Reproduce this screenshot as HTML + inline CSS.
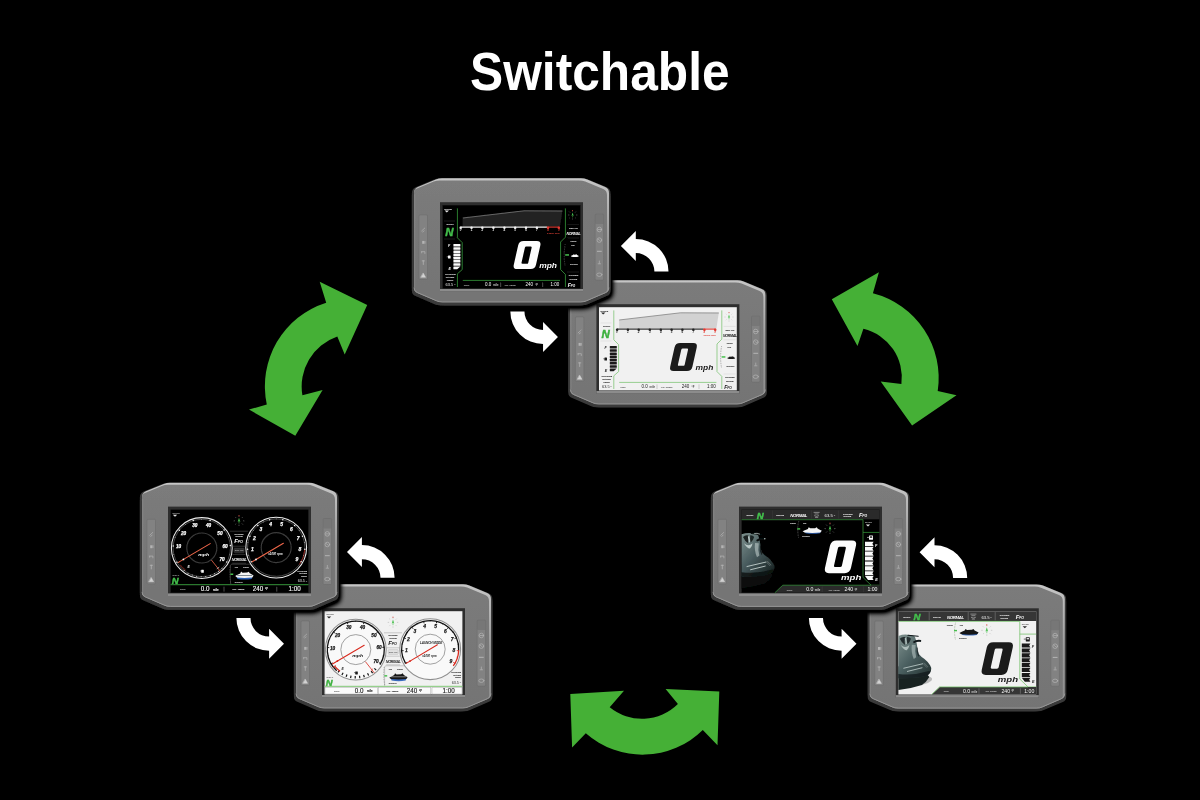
<!DOCTYPE html>
<html><head><meta charset="utf-8"><title>Switchable</title>
<style>
html,body{margin:0;padding:0;background:#000;}
body{width:1200px;height:800px;overflow:hidden;position:relative;font-family:"Liberation Sans",sans-serif;}
svg{position:absolute;left:0;top:0;display:block;will-change:transform}
text{font-family:"Liberation Sans",sans-serif;}
</style></head><body>
<svg width="1200" height="800" viewBox="0 0 1200 800">

<defs>
<linearGradient id="hlg" x1="0" y1="0" x2="0" y2="1"><stop offset="0" stop-color="#c6c6c6"/><stop offset="0.5" stop-color="#9c9c9c"/><stop offset="1" stop-color="#8a8a8a"/></linearGradient>
<linearGradient id="bodyg" x1="0" y1="0" x2="0" y2="1">
<stop offset="0" stop-color="#7b7b7b"/><stop offset="1" stop-color="#747474"/>
</linearGradient>
<!-- device shell: local coords 0..196 x 0..127 -->
<clipPath id="faceclip"><path d="M28,0 L167,0 Q170.3,0 173.2,1.2 L191.2,8.6 Q195,10.3 195,14.6 L195,109.6 Q195,113.2 191.6,114.6 L172.6,122.8 Q170.2,124 166.6,124 L28.4,124 Q24.8,124 22.4,122.8 L3.4,114.6 Q0,113.2 0,109.6 L0,14.6 Q0,10.3 3.8,8.6 L21.8,1.2 Q24.7,0 28,0 Z"/></clipPath>
<g id="shell">
<path id="faceP" d="M28,0 L167,0 Q170.3,0 173.2,1.2 L191.2,8.6 Q195,10.3 195,14.6 L195,109.6 Q195,113.2 191.6,114.6 L172.6,122.8 Q170.2,124 166.6,124 L28.4,124 Q24.8,124 22.4,122.8 L3.4,114.6 Q0,113.2 0,109.6 L0,14.6 Q0,10.3 3.8,8.6 L21.8,1.2 Q24.7,0 28,0 Z" fill="none"/>
<g fill="#3a3a3a"><path d="M28,0 L167,0 Q170.3,0 173.2,1.2 L191.2,8.6 Q195,10.3 195,14.6 L195,109.6 Q195,113.2 191.6,114.6 L172.6,122.8 Q170.2,124 166.6,124 L28.4,124 Q24.8,124 22.4,122.8 L3.4,114.6 Q0,113.2 0,109.6 L0,14.6 Q0,10.3 3.8,8.6 L21.8,1.2 Q24.7,0 28,0 Z" transform="translate(-2.1,0.3)"/><path d="M28,0 L167,0 Q170.3,0 173.2,1.2 L191.2,8.6 Q195,10.3 195,14.6 L195,109.6 Q195,113.2 191.6,114.6 L172.6,122.8 Q170.2,124 166.6,124 L28.4,124 Q24.8,124 22.4,122.8 L3.4,114.6 Q0,113.2 0,109.6 L0,14.6 Q0,10.3 3.8,8.6 L21.8,1.2 Q24.7,0 28,0 Z" transform="translate(1.4,0.3)"/><path d="M28,0 L167,0 Q170.3,0 173.2,1.2 L191.2,8.6 Q195,10.3 195,14.6 L195,109.6 Q195,113.2 191.6,114.6 L172.6,122.8 Q170.2,124 166.6,124 L28.4,124 Q24.8,124 22.4,122.8 L3.4,114.6 Q0,113.2 0,109.6 L0,14.6 Q0,10.3 3.8,8.6 L21.8,1.2 Q24.7,0 28,0 Z" transform="translate(-2.1,2.9)"/><path d="M28,0 L167,0 Q170.3,0 173.2,1.2 L191.2,8.6 Q195,10.3 195,14.6 L195,109.6 Q195,113.2 191.6,114.6 L172.6,122.8 Q170.2,124 166.6,124 L28.4,124 Q24.8,124 22.4,122.8 L3.4,114.6 Q0,113.2 0,109.6 L0,14.6 Q0,10.3 3.8,8.6 L21.8,1.2 Q24.7,0 28,0 Z" transform="translate(1.4,2.9)"/><path d="M28,0 L167,0 Q170.3,0 173.2,1.2 L191.2,8.6 Q195,10.3 195,14.6 L195,109.6 Q195,113.2 191.6,114.6 L172.6,122.8 Q170.2,124 166.6,124 L28.4,124 Q24.8,124 22.4,122.8 L3.4,114.6 Q0,113.2 0,109.6 L0,14.6 Q0,10.3 3.8,8.6 L21.8,1.2 Q24.7,0 28,0 Z" transform="translate(-0.4,2.9)"/></g>
<path d="M28,0 L167,0 Q170.3,0 173.2,1.2 L191.2,8.6 Q195,10.3 195,14.6 L195,109.6 Q195,113.2 191.6,114.6 L172.6,122.8 Q170.2,124 166.6,124 L28.4,124 Q24.8,124 22.4,122.8 L3.4,114.6 Q0,113.2 0,109.6 L0,14.6 Q0,10.3 3.8,8.6 L21.8,1.2 Q24.7,0 28,0 Z" fill="url(#hlg)"/>
<g clip-path="url(#faceclip)"><path d="M28,0 L167,0 Q170.3,0 173.2,1.2 L191.2,8.6 Q195,10.3 195,14.6 L195,109.6 Q195,113.2 191.6,114.6 L172.6,122.8 Q170.2,124 166.6,124 L28.4,124 Q24.8,124 22.4,122.8 L3.4,114.6 Q0,113.2 0,109.6 L0,14.6 Q0,10.3 3.8,8.6 L21.8,1.2 Q24.7,0 28,0 Z" transform="translate(-2,2.1)" fill="url(#bodyg)"/>
<rect x="-1" y="108" width="30" height="18" fill="#6a6a6a" opacity="0"/></g>
<path d="M0,109.6 Q0,113.2 3.4,114.6 L22.4,122.8 Q24.8,124 28.4,124 L166.6,124 Q170.2,124 172.6,122.8 L191.6,114.6 Q195,113.2 195,109.6" fill="none" stroke="#a4a4a4" stroke-width="0.7" transform="translate(0,-0.35)"/>
<path d="M0.6,16 V109" stroke="#8a8a8a" stroke-width="1.2" opacity="0.55"/>
<!-- side button strips -->
<rect x="5" y="36.6" width="8.5" height="64.6" rx="1" fill="#828282" stroke="#6c6c6c" stroke-width="0.6"/>
<rect x="181.1" y="35.8" width="8.5" height="66" rx="1" fill="#828282" stroke="#6c6c6c" stroke-width="0.6"/>
<g fill="none" stroke="#b4b4b4" stroke-width="0.7" stroke-linecap="round">
<path d="M7.7,52.6 L10.7,49.8 M8.7,53.6 L10.1,52.6"/>
<rect x="8.2" y="62.6" width="2.2" height="2.9" fill="#b4b4b4" stroke="none"/><path d="M11,63 V65"/>
<path d="M7.7,73.4 H10.9 V75.2 M7.7,73.4 V74.6"/>
<path d="M9.3,82.4 V86.2 M8.2,82.6 H10.4" stroke-width="0.8"/>
<path d="M9.3,95 L11.6,99 H7 Z" fill="#d2d2d2" stroke="#d2d2d2" stroke-width="0.5"/>
<circle cx="185.35" cy="51.2" r="2.3"/><path d="M183.95,51.2 H186.75"/>
<circle cx="185.35" cy="61.8" r="2.3"/><path d="M184.35,61 L186.35,62.6"/>
<path d="M183.35,73 H187.35" stroke-width="1"/>
<path d="M185.35,82.7 V84.9 M184.15,85.5 H186.55"/>
<ellipse cx="185.35" cy="96.4" rx="2.6" ry="1.7"/>
</g>
<rect x="181.1" y="35.8" width="8.5" height="10" rx="1" fill="#6f6f6f" opacity="0.6"/>
<!-- screen bezel -->
<rect x="26" y="23.9" width="143" height="89.4" fill="#2e2e2e"/>
<rect x="26" y="110.7" width="143" height="2.6" fill="#8c8c8c"/>
</g>

<!-- big italic zero: origin bottom-left, 20.8 x 28.4 -->
<g id="big0"><path fill-rule="evenodd" d="M4.6,-28 H17.8 Q22.2,-28 22.2,-23.6 V-4.4 Q22.2,0 17.8,0 H4.4 Q0,0 0,-4.4 V-23.6 Q0,-28 4.6,-28 Z M8.45,-22.6 Q7.25,-22.6 7.25,-21.4 V-6.45 Q7.25,-5.25 8.45,-5.25 H12.8 Q14,-5.25 14,-6.45 V-21.4 Q14,-22.6 12.8,-22.6 Z" transform="skewX(-12.7)"/></g>
<!-- small jetski side icon, ~8 wide, origin left-center -->
<g id="ski"><path d="M0,0.9 L1.0,0.35 L2.2,-0.25 L2.55,-1.05 L3.2,-0.5 L5.2,-0.6 L5.85,-1.0 L6.35,-0.3 L8,0.7 L7.4,1.5 Q4,1.9 0.8,1.5 Z"/></g>
<!-- compass r=4.6 -->
<g id="compass">
<g stroke-width="0.35" stroke-linecap="butt">
<path d="M0,-4.6V-3.4 M0,4.6V3.4 M-4.6,0H-3.4 M4.6,0H3.4 M-3.2,-3.2L-2.5,-2.5 M3.2,-3.2L2.5,-2.5 M-3.2,3.2L-2.5,2.5 M3.2,3.2L2.5,2.5"/></g>
<path d="M0,-2.6 L1.1,0.9 L0,0.3 L-1.1,0.9 Z" fill="#49c04f" stroke="none"/>
<path d="M0,0.6V2.4" stroke="#49c04f" stroke-width="0.5"/>
<rect x="-0.35" y="-5" width="0.7" height="1" fill="#e0392f" stroke="none"/>
</g>
<filter id="sh" x="-10%" y="-10%" width="125%" height="130%"><feGaussianBlur in="SourceAlpha" stdDeviation="2.6"/><feOffset dx="1.5" dy="2.5"/><feComponentTransfer><feFuncA type="linear" slope="1.6"/></feComponentTransfer><feMerge><feMergeNode/><feMergeNode in="SourceGraphic"/></feMerge></filter>
<path id="warrow" d="M-14.9,-25.7 L0,-40.7 L0,-32.7 A32.7,32.7 0 0 1 32.7,0 L18.6,0 A18.6,18.6 0 0 0 0,-18.6 L0,-10.7 Z" fill="#fff"/>
</defs>

<rect width="1200" height="800" fill="#000"/>
<text transform="translate(470.1,90.1) scale(0.965,1.03)" font-size="51.5" font-weight="700" fill="#fff" letter-spacing="0">Switchable</text>
<!-- green arrows -->
<g fill="#45b036">
<path d="M326.2,302.7 L319.7,281.8 L367.2,305.1 L344.7,354.5 L337.3,336.4 A53,53 0 0 0 302.4,395.3 L322.6,390.1 L295.3,435.7 L249,409.6 L266.8,404.4 A87.5,87.5 0 0 1 326.2,302.7 Z"/>
<path d="M872.9,293.2 L878.9,272.3 L831.8,299.2 L857.5,345.9 L863.4,328.8 A50,50 0 0 1 901.4,383.9 L880.7,381.6 L912.1,425.5 L956.5,395.3 L937.7,391.1 A87.5,87.5 0 0 0 872.9,293.2 Z"/>
<path d="M609.7,707.3 L624,690.8 L570.3,693.9 L572.1,747.6 L585.8,733.3 A86,86 0 0 0 702.8,730 L717.5,745.3 L719.3,691.5 L665.6,689 L677.9,704 A51,51 0 0 1 609.7,707.3 Z"/>
</g>

<!-- devices -->
<g transform="translate(570.4,280.3)"><use href="#shell"/><g transform="translate(28.6,26.9)">
<rect x="0" y="0" width="137.8" height="83.2" fill="#f1f1f1"/>
<g font-family="Liberation Sans, sans-serif">
<path d="M20.2,12.8 L81.4,5.6 L119.8,5.6 L117.4,21.4 L20.2,21.4 Z" fill="#d2d2d2"/>
<path d="M20.2,12.8 L81.4,5.6 L119.8,5.8" fill="none" stroke="#777" stroke-width="0.7"/>
<path d="M17.8,21.9 H104.6" stroke="#3a3a3a" stroke-width="1.1"/>
<path d="M104.6,21.9 H116.8" stroke="#e23a32" stroke-width="1.1"/>
<g fill="#222"><circle cx="18.1" cy="22.5" r="1.25"/><circle cx="28.9" cy="22.5" r="1.25"/><circle cx="39.7" cy="22.5" r="1.25"/><circle cx="50.8" cy="22.5" r="1.25"/><circle cx="61.8" cy="22.5" r="1.25"/><circle cx="72.6" cy="22.5" r="1.25"/><circle cx="83.4" cy="22.5" r="1.25"/><circle cx="94.3" cy="22.5" r="1.25"/></g>
<g fill="#e23a32"><circle cx="105.4" cy="22.5" r="1.3"/><circle cx="116.2" cy="22.5" r="1.3"/></g>
<g fill="#2a2a2a" font-size="3" font-weight="700" font-style="italic" text-anchor="middle"><text x="18.1" y="25.6">0</text><text x="28.9" y="25.6">1</text><text x="39.7" y="25.6">2</text><text x="50.8" y="25.6">3</text><text x="61.8" y="25.6">4</text><text x="72.6" y="25.6">5</text><text x="83.4" y="25.6">6</text><text x="94.3" y="25.6">7</text></g>
<g fill="#e23a32" font-size="3" font-weight="700" font-style="italic" text-anchor="middle"><text x="105.4" y="25.6">8</text><text x="116.2" y="25.6">9</text></g>
<text x="104.4" y="28.6" font-size="2.5" fill="#e04038" font-weight="700">x1000 rpm</text>
<g fill="none" stroke="#86c77e" stroke-width="0.85" stroke-linejoin="round"><path d="M14.8,3.2 V32.6 L19.6,37.4 V64.4 L14.8,68.6 V81.8"/><path d="M122.8,3.2 V32 L118,36.8 V64.4 L122.8,69.2 V81.8"/><path d="M20.2,75.2 H117.4"/></g>
<g fill="#555" stroke="#555" stroke-width="0.16" font-size="2.5" font-weight="700"><text x="1.6" y="4.4">MODE</text><text x="4" y="19.6">SHIFT</text></g>
<path d="M2,5.4 L4.2,7.4 L6.4,5.4 Z" fill="#2a2a2a"/>
<path d="M1.6,15.8 H12.4 M1.6,33.8 H12.4" stroke="#c4c4c4" stroke-width="0.35"/>
<text x="2.6" y="31" font-size="11.4" font-weight="700" font-style="italic" fill="#3db13f" stroke="#3db13f" stroke-width="0.45">N</text>
<g fill="#1a1a1a"><rect x="10.8" y="38.8" width="7" height="2.6" rx="0.5"/><rect x="10.8" y="42.0" width="7" height="2.6" rx="0.5"/><rect x="10.8" y="45.2" width="7" height="2.6" rx="0.5"/><rect x="10.8" y="48.4" width="7" height="2.6" rx="0.5"/><rect x="10.8" y="51.6" width="7" height="2.6" rx="0.5"/><rect x="10.8" y="54.8" width="7" height="2.6" rx="0.5"/><rect x="10.8" y="58.0" width="7" height="2.6" rx="0.5"/><path d="M11.3,61.2 H17.8 L14.6,64 H11.3 Q10.8,64 10.8,63.5 V61.7 Q10.8,61.2 11.3,61.2Z"/></g>
<g fill="#1a1a1a" font-size="3.6" font-weight="700" font-style="italic"><text x="5.4" y="42">F</text><text x="5.8" y="65">E</text></g>
<rect x="5.4" y="50.4" width="2.6" height="3" rx="0.4" fill="#1a1a1a"/><path d="M4.2,51.6 H5.4" stroke="#1a1a1a" stroke-width="0.5"/>
<g fill="#555" stroke="#555" stroke-width="0.16" font-size="2.4" font-weight="700"><text x="2.4" y="69.8">OUTSIDE</text><text x="3.2" y="72.6">WATER</text><text x="4.2" y="75.4">TEMP</text></g>
<text x="3" y="80.8" font-size="3.9" fill="#2a2a2a">63.5<tspan font-size="2.4" dy="-0.8">°F</tspan></text>
<use href="#big0" transform="translate(70.2,63.9)" fill="#1b1b1b"/>
<text transform="translate(96.6,62.4) scale(1.3,1)" font-size="6.5" font-weight="700" font-style="italic" fill="#1a1a1a">mph</text>
<g font-size="4.5" fill="#1a1a1a"><text x="21.2" y="80.8" font-size="2.5" font-weight="700" fill="#4a4a4a">TRIP</text><text x="42.4" y="81.3">0.0</text><text x="50.4" y="81.2" font-size="2.8" font-weight="700" fill="#4a4a4a">mile</text><text x="61.8" y="80.8" font-size="2.5" font-weight="700" fill="#4a4a4a">OIL TEMP</text><text x="82.8" y="81.3">240</text><text x="92.6" y="80.8" font-size="2.8" font-weight="700" fill="#4a4a4a">°F</text><text x="108" y="81.3">1:00</text></g>
<path d="M58,77.2 V81.8 M100,77.2 V81.8" stroke="#999" stroke-width="0.45"/>
<use href="#compass" transform="translate(130,9.8)" stroke="#9a9a9a"/>
<path d="M124.6,19.2 H136.6 M124.6,32.6 H136.6 M124.6,66.8 H136.6" stroke="#c4c4c4" stroke-width="0.35"/>
<g fill="#555" stroke="#555" stroke-width="0.16" font-size="2.5" font-weight="700"><text x="126.4" y="23.9">SET UP</text><text x="127.6" y="36.5">TRIM</text><text x="128.6" y="41.3">UP</text><text x="127.4" y="59.5">DOWN</text><text x="126.2" y="70.8">POWER</text><text x="127" y="74.4">MODE</text></g>
<text x="123.9" y="29.5" font-size="3.6" font-weight="700" font-style="italic" fill="#1a1a1a" letter-spacing="-0.3">NORMAL</text>
<path d="M122.6,39 Q120.6,50 122.6,61" fill="none" stroke="#444" stroke-width="0.5" stroke-dasharray="0.8 0.9"/>
<rect x="122.6" y="49" width="3.8" height="1.5" fill="#49c04f"/>
<use href="#ski" transform="translate(128.2,50)" fill="#1a1a1a"/>
<text x="125.2" y="81.4" font-size="5.2" font-weight="700" font-style="italic" fill="#1a1a1a">F<tspan font-size="3.1" dx="-0.2">PO</tspan></text>
</g>
</g></g>
<g transform="translate(414.0,178.3)" filter="url(#sh)"><use href="#shell"/><g transform="translate(28.6,26.9)">
<rect x="0" y="0" width="137.8" height="83.2" fill="#020202"/>
<g font-family="Liberation Sans, sans-serif">
<path d="M20.2,12.8 L81.4,5.6 L119.8,5.6 L117.4,21.4 L20.2,21.4 Z" fill="#232323"/>
<path d="M20.2,12.8 L81.4,5.6 L119.8,5.8" fill="none" stroke="#8a8a8a" stroke-width="0.7"/>
<path d="M17.8,21.9 H104.6" stroke="#f0f0f0" stroke-width="1.1"/>
<path d="M104.6,21.9 H116.8" stroke="#e23a32" stroke-width="1.1"/>
<g fill="#f2f2f2"><circle cx="18.1" cy="22.5" r="1.25"/><circle cx="28.9" cy="22.5" r="1.25"/><circle cx="39.7" cy="22.5" r="1.25"/><circle cx="50.8" cy="22.5" r="1.25"/><circle cx="61.8" cy="22.5" r="1.25"/><circle cx="72.6" cy="22.5" r="1.25"/><circle cx="83.4" cy="22.5" r="1.25"/><circle cx="94.3" cy="22.5" r="1.25"/></g>
<g fill="#e23a32"><circle cx="105.4" cy="22.5" r="1.3"/><circle cx="116.2" cy="22.5" r="1.3"/></g>
<g fill="#e6e6e6" font-size="3" font-weight="700" font-style="italic" text-anchor="middle"><text x="18.1" y="25.6">0</text><text x="28.9" y="25.6">1</text><text x="39.7" y="25.6">2</text><text x="50.8" y="25.6">3</text><text x="61.8" y="25.6">4</text><text x="72.6" y="25.6">5</text><text x="83.4" y="25.6">6</text><text x="94.3" y="25.6">7</text></g>
<g fill="#e23a32" font-size="3" font-weight="700" font-style="italic" text-anchor="middle"><text x="105.4" y="25.6">8</text><text x="116.2" y="25.6">9</text></g>
<text x="104.4" y="28.6" font-size="2.5" fill="#e04038" font-weight="700">x1000 rpm</text>
<g fill="none" stroke="#35923b" stroke-width="0.85" stroke-linejoin="round"><path d="M14.8,3.2 V32.6 L19.6,37.4 V64.4 L14.8,68.6 V81.8"/><path d="M122.8,3.2 V32 L118,36.8 V64.4 L122.8,69.2 V81.8"/><path d="M20.2,75.2 H117.4"/></g>
<g fill="#b8b8b8" stroke="#b8b8b8" stroke-width="0.16" font-size="2.5" font-weight="700"><text x="1.6" y="4.4">MODE</text><text x="4" y="19.6">SHIFT</text></g>
<path d="M2,5.4 L4.2,7.4 L6.4,5.4 Z" fill="#e6e6e6"/>
<path d="M1.6,15.8 H12.4 M1.6,33.8 H12.4" stroke="#444" stroke-width="0.35"/>
<text x="2.6" y="31" font-size="11.4" font-weight="700" font-style="italic" fill="#43bf4c" stroke="#43bf4c" stroke-width="0.45">N</text>
<g fill="#fafafa"><rect x="10.8" y="38.8" width="7" height="2.6" rx="0.5"/><rect x="10.8" y="42.0" width="7" height="2.6" rx="0.5"/><rect x="10.8" y="45.2" width="7" height="2.6" rx="0.5"/><rect x="10.8" y="48.4" width="7" height="2.6" rx="0.5"/><rect x="10.8" y="51.6" width="7" height="2.6" rx="0.5"/><rect x="10.8" y="54.8" width="7" height="2.6" rx="0.5"/><rect x="10.8" y="58.0" width="7" height="2.6" rx="0.5"/><path d="M11.3,61.2 H17.8 L14.6,64 H11.3 Q10.8,64 10.8,63.5 V61.7 Q10.8,61.2 11.3,61.2Z"/></g>
<g fill="#fafafa" font-size="3.6" font-weight="700" font-style="italic"><text x="5.4" y="42">F</text><text x="5.8" y="65">E</text></g>
<rect x="5.4" y="50.4" width="2.6" height="3" rx="0.4" fill="#fafafa"/><path d="M4.2,51.6 H5.4" stroke="#fafafa" stroke-width="0.5"/>
<g fill="#b8b8b8" stroke="#b8b8b8" stroke-width="0.16" font-size="2.4" font-weight="700"><text x="2.4" y="69.8">OUTSIDE</text><text x="3.2" y="72.6">WATER</text><text x="4.2" y="75.4">TEMP</text></g>
<text x="3" y="80.8" font-size="3.9" fill="#e6e6e6">63.5<tspan font-size="2.4" dy="-0.8">°F</tspan></text>
<use href="#big0" transform="translate(70.2,63.9)" fill="#fdfdfd"/>
<text transform="translate(96.6,62.4) scale(1.3,1)" font-size="6.5" font-weight="700" font-style="italic" fill="#fafafa">mph</text>
<g font-size="4.5" fill="#fafafa"><text x="21.2" y="80.8" font-size="2.5" font-weight="700" fill="#c4c4c4">TRIP</text><text x="42.4" y="81.3">0.0</text><text x="50.4" y="81.2" font-size="2.8" font-weight="700" fill="#c4c4c4">mile</text><text x="61.8" y="80.8" font-size="2.5" font-weight="700" fill="#c4c4c4">OIL TEMP</text><text x="82.8" y="81.3">240</text><text x="92.6" y="80.8" font-size="2.8" font-weight="700" fill="#c4c4c4">°F</text><text x="108" y="81.3">1:00</text></g>
<path d="M58,77.2 V81.8 M100,77.2 V81.8" stroke="#9a9a9a" stroke-width="0.45"/>
<use href="#compass" transform="translate(130,9.8)" stroke="#bdbdbd"/>
<path d="M124.6,19.2 H136.6 M124.6,32.6 H136.6 M124.6,66.8 H136.6" stroke="#444" stroke-width="0.35"/>
<g fill="#b8b8b8" stroke="#b8b8b8" stroke-width="0.16" font-size="2.5" font-weight="700"><text x="126.4" y="23.9">SET UP</text><text x="127.6" y="36.5">TRIM</text><text x="128.6" y="41.3">UP</text><text x="127.4" y="59.5">DOWN</text><text x="126.2" y="70.8">POWER</text><text x="127" y="74.4">MODE</text></g>
<text x="123.9" y="29.5" font-size="3.6" font-weight="700" font-style="italic" fill="#fafafa" letter-spacing="-0.3">NORMAL</text>
<path d="M122.6,39 Q120.6,50 122.6,61" fill="none" stroke="#8d8d8d" stroke-width="0.5" stroke-dasharray="0.8 0.9"/>
<rect x="122.6" y="49" width="3.8" height="1.5" fill="#49c04f"/>
<use href="#ski" transform="translate(128.2,50)" fill="#fafafa"/>
<text x="125.2" y="81.4" font-size="5.2" font-weight="700" font-style="italic" fill="#fafafa">F<tspan font-size="3.1" dx="-0.2">PO</tspan></text>
</g>
</g></g>
<g transform="translate(296.0,584.3)"><use href="#shell"/><g transform="translate(28.6,26.9)">
<rect x="0" y="0" width="137.8" height="83.2" fill="#f1f1f1"/>
<g font-family="Liberation Sans, sans-serif">
<circle cx="31.2" cy="38.4" r="30.4" fill="#f9f9f9" stroke="#8e8e8e" stroke-width="1.05"/>
<path d="M12.13,59.58 A28.5,28.5 0 1 1 55.37,53.50" fill="none" stroke="#111" stroke-width="1.3"/>
<circle cx="31.2" cy="38.4" r="15" fill="none" stroke="#8a8a8a" stroke-width="0.8"/>
<path d="M6.17,52.85 L8.16,51.70" stroke="#111" stroke-width="0.9"/>
<path d="M3.03,44.85 L4.30,44.56" stroke="#111" stroke-width="0.5"/>
<path d="M2.38,36.28 L4.67,36.45" stroke="#111" stroke-width="0.9"/>
<path d="M4.27,27.90 L5.49,28.37" stroke="#111" stroke-width="0.5"/>
<path d="M8.55,20.45 L10.35,21.88" stroke="#111" stroke-width="0.9"/>
<path d="M14.83,14.58 L15.57,15.65" stroke="#111" stroke-width="0.5"/>
<path d="M22.56,10.82 L23.25,13.02" stroke="#111" stroke-width="0.9"/>
<path d="M31.05,9.50 L31.06,10.80" stroke="#111" stroke-width="0.5"/>
<path d="M39.55,10.73 L38.89,12.94" stroke="#111" stroke-width="0.9"/>
<path d="M47.32,14.41 L46.59,15.49" stroke="#111" stroke-width="0.5"/>
<path d="M53.66,20.21 L51.87,21.66" stroke="#111" stroke-width="0.9"/>
<path d="M58.01,27.62 L56.81,28.11" stroke="#111" stroke-width="0.5"/>
<path d="M60.00,35.98 L57.71,36.17" stroke="#111" stroke-width="0.9"/>
<path d="M59.44,44.56 L58.17,44.28" stroke="#111" stroke-width="0.5"/>
<path d="M56.38,52.59 L54.37,51.46" stroke="#111" stroke-width="0.9"/>
<text x="7.96" y="38.39" font-size="4.7" font-weight="700" font-style="italic" text-anchor="middle" fill="#1a1a1a" stroke="#1a1a1a" stroke-width="0.25">10</text>
<text x="12.94" y="25.62" font-size="4.7" font-weight="700" font-style="italic" text-anchor="middle" fill="#1a1a1a" stroke="#1a1a1a" stroke-width="0.25">20</text>
<text x="24.23" y="17.86" font-size="4.7" font-weight="700" font-style="italic" text-anchor="middle" fill="#1a1a1a" stroke="#1a1a1a" stroke-width="0.25">30</text>
<text x="37.93" y="17.79" font-size="4.7" font-weight="700" font-style="italic" text-anchor="middle" fill="#1a1a1a" stroke="#1a1a1a" stroke-width="0.25">40</text>
<text x="49.31" y="25.43" font-size="4.7" font-weight="700" font-style="italic" text-anchor="middle" fill="#1a1a1a" stroke="#1a1a1a" stroke-width="0.25">50</text>
<text x="54.42" y="38.14" font-size="4.7" font-weight="700" font-style="italic" text-anchor="middle" fill="#1a1a1a" stroke="#1a1a1a" stroke-width="0.25">60</text>
<text x="51.50" y="51.53" font-size="4.7" font-weight="700" font-style="italic" text-anchor="middle" fill="#1a1a1a" stroke="#1a1a1a" stroke-width="0.25">70</text>
<circle cx="105.6" cy="38.0" r="30.4" fill="#f9f9f9" stroke="#8e8e8e" stroke-width="1.05"/>
<path d="M80.92,52.25 A28.5,28.5 0 1 1 134.06,39.49" fill="none" stroke="#111" stroke-width="1.3"/>
<path d="M134.06,39.49 A28.5,28.5 0 0 1 128.66,54.75" fill="none" stroke="#d8281c" stroke-width="1.3"/>
<circle cx="105.6" cy="38.0" r="15" fill="none" stroke="#8a8a8a" stroke-width="0.8"/>
<path d="M80.50,52.32 L82.49,51.18" stroke="#111" stroke-width="0.9"/>
<path d="M77.88,46.16 L79.12,45.79" stroke="#111" stroke-width="0.5"/>
<path d="M76.74,39.56 L79.04,39.44" stroke="#111" stroke-width="0.9"/>
<path d="M77.16,32.88 L78.44,33.11" stroke="#111" stroke-width="0.5"/>
<path d="M79.10,26.48 L81.21,27.39" stroke="#111" stroke-width="0.9"/>
<path d="M82.46,20.69 L83.50,21.47" stroke="#111" stroke-width="0.5"/>
<path d="M87.06,15.83 L88.54,17.59" stroke="#111" stroke-width="0.9"/>
<path d="M92.66,12.16 L93.24,13.32" stroke="#111" stroke-width="0.5"/>
<path d="M98.95,9.88 L99.48,12.11" stroke="#111" stroke-width="0.9"/>
<path d="M105.60,9.10 L105.60,10.40" stroke="#111" stroke-width="0.5"/>
<path d="M112.25,9.88 L111.72,12.11" stroke="#111" stroke-width="0.9"/>
<path d="M118.54,12.16 L117.96,13.32" stroke="#111" stroke-width="0.5"/>
<path d="M124.14,15.83 L122.66,17.59" stroke="#111" stroke-width="0.9"/>
<path d="M128.74,20.69 L127.70,21.47" stroke="#111" stroke-width="0.5"/>
<path d="M132.10,26.48 L129.99,27.39" stroke="#111" stroke-width="0.9"/>
<path d="M134.04,32.88 L132.76,33.11" stroke="#111" stroke-width="0.5"/>
<path d="M134.46,39.56 L132.16,39.44" stroke="#d8281c" stroke-width="0.9"/>
<path d="M133.32,46.16 L132.08,45.79" stroke="#d8281c" stroke-width="0.5"/>
<path d="M130.70,52.32 L128.71,51.18" stroke="#d8281c" stroke-width="0.9"/>
<text x="81.83" y="41.09" font-size="5" font-weight="700" font-style="italic" text-anchor="middle" fill="#1a1a1a" stroke="#1a1a1a" stroke-width="0.25">1</text>
<text x="83.77" y="30.31" font-size="5" font-weight="700" font-style="italic" text-anchor="middle" fill="#1a1a1a" stroke="#1a1a1a" stroke-width="0.25">2</text>
<text x="90.33" y="21.54" font-size="5" font-weight="700" font-style="italic" text-anchor="middle" fill="#1a1a1a" stroke="#1a1a1a" stroke-width="0.25">3</text>
<text x="100.12" y="16.64" font-size="5" font-weight="700" font-style="italic" text-anchor="middle" fill="#1a1a1a" stroke="#1a1a1a" stroke-width="0.25">4</text>
<text x="111.08" y="16.64" font-size="5" font-weight="700" font-style="italic" text-anchor="middle" fill="#1a1a1a" stroke="#1a1a1a" stroke-width="0.25">5</text>
<text x="120.87" y="21.54" font-size="5" font-weight="700" font-style="italic" text-anchor="middle" fill="#1a1a1a" stroke="#1a1a1a" stroke-width="0.25">6</text>
<text x="127.43" y="30.31" font-size="5" font-weight="700" font-style="italic" text-anchor="middle" fill="#1a1a1a" stroke="#1a1a1a" stroke-width="0.25">7</text>
<text x="129.37" y="41.09" font-size="5" font-weight="700" font-style="italic" text-anchor="middle" fill="#1a1a1a" stroke="#1a1a1a" stroke-width="0.25">8</text>
<text x="126.27" y="51.59" font-size="5" font-weight="700" font-style="italic" text-anchor="middle" fill="#1a1a1a" stroke="#1a1a1a" stroke-width="0.25">9</text>
<path d="M13.41,61.17 L14.95,59.20" stroke="#111" stroke-width="1.2"/>
<path d="M17.28,63.73 L18.48,61.53" stroke="#111" stroke-width="1.2"/>
<path d="M21.51,65.63 L22.34,63.27" stroke="#111" stroke-width="1.2"/>
<path d="M25.98,66.83 L26.43,64.37" stroke="#111" stroke-width="1.2"/>
<path d="M30.59,67.29 L30.65,64.79" stroke="#111" stroke-width="1.2"/>
<path d="M35.22,67.02 L34.87,64.54" stroke="#111" stroke-width="1.2"/>
<path d="M39.75,66.01 L39.01,63.62" stroke="#111" stroke-width="1.2"/>
<path d="M44.05,64.29 L42.94,62.05" stroke="#111" stroke-width="1.2"/>
<path d="M48.02,61.90 L46.57,59.87" stroke="#111" stroke-width="1.2"/>
<path d="M51.56,58.91 L49.80,57.13" stroke="#111" stroke-width="1.2"/>
<path d="M15.45,60.08 A26.8,26.8 0 0 1 10.08,54.90" fill="none" stroke="#d8281c" stroke-width="1.2"/>
<path d="M8.35,56.25 L11.03,54.16" stroke="#d8281c" stroke-width="0.9"/>
<text x="17" y="58.6" font-size="3.4" font-weight="700" font-style="italic" fill="#1a1a1a">E</text>
<rect x="30.6" y="60.2" width="2.6" height="3" rx="0.4" fill="#1a1a1a"/><path d="M29.4,61.4 H30.6" stroke="#1a1a1a" stroke-width="0.5"/>
<path d="M40.8,50.4 L49.8,61.8" stroke="#d8281c" stroke-width="0.8"/><path d="M46.2,59.4 L48.6,57.4" stroke="#d8281c" stroke-width="0.6"/>
<path d="M7.8,52.8 L39.6,34" stroke="#d8281c" stroke-width="1.05" stroke-linecap="round"/>
<circle cx="12.8" cy="49.8" r="0.9" fill="#d8281c"/>
<path d="M81.6,52.2 L112.8,33.6" stroke="#d8281c" stroke-width="1.05" stroke-linecap="round"/>
<circle cx="85.4" cy="49.9" r="0.9" fill="#d8281c"/>
<text transform="translate(27.6,46.2) scale(1.3,1)" font-size="4" font-weight="700" font-style="italic" fill="#1a1a1a">mph</text>
<text x="97.6" y="45.8" font-size="2.9" font-weight="700" font-style="italic" fill="#1a1a1a">x1000 rpm</text>
<text x="95.4" y="32.4" font-size="3.1" font-weight="700" font-style="italic" fill="#1a1a1a" letter-spacing="-0.1">LAUNCH MODE</text>
<use href="#compass" transform="translate(68.4,11.2) scale(1.15)" stroke="#9a9a9a"/>
<path d="M59.4,21.6 H77.4 M61.8,36.6 H75.2 M61.8,45 H75.2 M61.6,53.6 H75.4" stroke="#9c9c9c" stroke-width="0.5"/>
<g fill="#555" stroke="#555" stroke-width="0.16" font-size="2.4" font-weight="700" text-anchor="middle"><text x="68.4" y="25.2">POWER</text><text x="68.4" y="27.8">MODE</text></g>
<text x="63.6" y="33.8" font-size="6" font-weight="700" font-style="italic" fill="#1a1a1a">F<tspan font-size="3.6" dx="-0.2">PO</tspan></text>
<rect x="63.6" y="38.4" width="10" height="4.8" rx="0.8" fill="#e2e2e2" stroke="#9c9c9c" stroke-width="0.3"/>
<text x="68.6" y="41.7" font-size="2.4" font-weight="700" text-anchor="middle" fill="#555">SET UP</text>
<text x="68.6" y="51.6" font-size="3.8" font-weight="700" font-style="italic" fill="#1a1a1a" text-anchor="middle" letter-spacing="-0.3">NORMAL</text>
<path d="M60,75 V56 Q60,54.6 61.4,54.6 H80" fill="none" stroke="#9c9c9c" stroke-width="0.5"/>
<path d="M59.6,56 Q58.2,65 60.2,74" fill="none" stroke="#444" stroke-width="0.45" stroke-dasharray="0.8 0.9"/>
<g fill="#555" stroke="#555" stroke-width="0.16" font-size="2.4" font-weight="700"><text x="64.2" y="58.4">UP</text><text x="72.4" y="58.4">TRIM</text><text x="64.2" y="73">DOWN</text></g>
<rect x="59.8" y="63.9" width="2.8" height="1.5" fill="#49c04f"/>
<path d="M65.6,65.8 H82.4 L81,69.4 Q74,70.6 67,69.4 Z" fill="#3a6cc0"/>
<use href="#ski" transform="translate(64.6,64.4) scale(2.3)" fill="#151515"/>
<path d="M66.6,65.6 H81.6" stroke="#f4f4f4" stroke-width="0.5"/>
<g fill="#555" stroke="#555" stroke-width="0.16" font-size="2.2" font-weight="700" text-anchor="end"><text x="136.4" y="62">OUTSIDE</text><text x="136.4" y="64.6">WATER</text><text x="136.4" y="67.2">TEMP</text></g>
<text x="136.6" y="72.8" font-size="3.7" fill="#2a2a2a" text-anchor="end">63.5<tspan font-size="2.3" dy="-0.8">°F</tspan></text>
<text x="1.8" y="4.2" font-size="2.5" font-weight="700" fill="#555">MODE</text><path d="M2.2,5.2 L4.4,7.2 L6.6,5.2 Z" fill="#2a2a2a"/>
<text x="1.8" y="66.8" font-size="2.3" font-weight="700" fill="#555">SHIFT</text>
<text x="1.2" y="74.6" font-size="9.4" font-weight="700" font-style="italic" fill="#3db13f" stroke="#3db13f" stroke-width="0.45">N</text>
<rect x="0" y="74.6" width="137.8" height="1.1" fill="#8ccd82"/>
<g fill="#fbfbfb" stroke="#a8a8a8" stroke-width="0.45"><rect x="0.4" y="76.2" width="52.4" height="6.6"/><rect x="54" y="76.2" width="52.2" height="6.6"/><rect x="107.4" y="76.2" width="30" height="6.6"/></g>
<g font-size="6.3" fill="#1a1a1a" stroke="#1a1a1a" stroke-width="0.12"><text x="9.4" y="80.8" stroke="none" font-size="2.5" font-weight="700" fill="#4a4a4a">TRIP</text><text x="30.2" y="81.8">0.0</text><text x="42.4" y="81.2" font-size="2.8" font-weight="700" fill="#4a4a4a">mile</text><text x="62" y="80.8" font-size="2.5" font-weight="700" fill="#4a4a4a">OIL TEMP</text><text x="82.2" y="81.8">240</text><text x="94.4" y="80.6" font-size="3" font-weight="700" fill="#4a4a4a">°F</text><text x="117.8" y="81.8">1:00</text></g>
</g>
</g></g>
<g transform="translate(142.0,482.7)" filter="url(#sh)"><use href="#shell"/><g transform="translate(28.6,26.9)">
<rect x="0" y="0" width="137.8" height="83.2" fill="#020202"/>
<g font-family="Liberation Sans, sans-serif">
<circle cx="31.2" cy="38.4" r="30.4" fill="#020202" stroke="#ececec" stroke-width="1.05"/>
<circle cx="31.2" cy="38.4" r="28.7" fill="none" stroke="#9a9a9a" stroke-width="0.45"/>
<circle cx="31.2" cy="38.4" r="15" fill="none" stroke="#3c3c3c" stroke-width="1.1"/>
<circle cx="6.35" cy="52.75" r="0.75" fill="#f4f4f4"/>
<circle cx="3.22" cy="44.81" r="0.4" fill="#f4f4f4"/>
<circle cx="2.58" cy="36.30" r="0.75" fill="#f4f4f4"/>
<circle cx="4.46" cy="27.97" r="0.4" fill="#f4f4f4"/>
<circle cx="8.71" cy="20.57" r="0.75" fill="#f4f4f4"/>
<circle cx="14.94" cy="14.75" r="0.4" fill="#f4f4f4"/>
<circle cx="22.62" cy="11.01" r="0.75" fill="#f4f4f4"/>
<circle cx="31.05" cy="9.70" r="0.4" fill="#f4f4f4"/>
<circle cx="39.50" cy="10.92" r="0.75" fill="#f4f4f4"/>
<circle cx="47.21" cy="14.58" r="0.4" fill="#f4f4f4"/>
<circle cx="53.50" cy="20.34" r="0.75" fill="#f4f4f4"/>
<circle cx="57.83" cy="27.70" r="0.4" fill="#f4f4f4"/>
<circle cx="59.80" cy="36.00" r="0.75" fill="#f4f4f4"/>
<circle cx="59.24" cy="44.51" r="0.4" fill="#f4f4f4"/>
<circle cx="56.20" cy="52.49" r="0.75" fill="#f4f4f4"/>
<text x="7.96" y="38.39" font-size="4.7" font-weight="700" font-style="italic" text-anchor="middle" fill="#fafafa" stroke="#fafafa" stroke-width="0.25">10</text>
<text x="12.94" y="25.62" font-size="4.7" font-weight="700" font-style="italic" text-anchor="middle" fill="#fafafa" stroke="#fafafa" stroke-width="0.25">20</text>
<text x="24.23" y="17.86" font-size="4.7" font-weight="700" font-style="italic" text-anchor="middle" fill="#fafafa" stroke="#fafafa" stroke-width="0.25">30</text>
<text x="37.93" y="17.79" font-size="4.7" font-weight="700" font-style="italic" text-anchor="middle" fill="#fafafa" stroke="#fafafa" stroke-width="0.25">40</text>
<text x="49.31" y="25.43" font-size="4.7" font-weight="700" font-style="italic" text-anchor="middle" fill="#fafafa" stroke="#fafafa" stroke-width="0.25">50</text>
<text x="54.42" y="38.14" font-size="4.7" font-weight="700" font-style="italic" text-anchor="middle" fill="#fafafa" stroke="#fafafa" stroke-width="0.25">60</text>
<text x="51.50" y="51.53" font-size="4.7" font-weight="700" font-style="italic" text-anchor="middle" fill="#fafafa" stroke="#fafafa" stroke-width="0.25">70</text>
<circle cx="105.6" cy="38.0" r="30.4" fill="#020202" stroke="#ececec" stroke-width="1.05"/>
<circle cx="105.6" cy="38.0" r="28.7" fill="none" stroke="#9a9a9a" stroke-width="0.45"/>
<path d="M134.26,39.50 A28.7,28.7 0 0 1 128.82,54.87" fill="none" stroke="#8a1f1a" stroke-width="1"/>
<circle cx="105.6" cy="38.0" r="15" fill="none" stroke="#3c3c3c" stroke-width="1.1"/>
<circle cx="80.67" cy="52.22" r="0.75" fill="#f4f4f4"/>
<circle cx="78.07" cy="46.10" r="0.4" fill="#f4f4f4"/>
<circle cx="76.94" cy="39.55" r="0.75" fill="#f4f4f4"/>
<circle cx="77.35" cy="32.92" r="0.4" fill="#f4f4f4"/>
<circle cx="79.28" cy="26.56" r="0.75" fill="#f4f4f4"/>
<circle cx="82.62" cy="20.81" r="0.4" fill="#f4f4f4"/>
<circle cx="87.19" cy="15.98" r="0.75" fill="#f4f4f4"/>
<circle cx="92.75" cy="12.34" r="0.4" fill="#f4f4f4"/>
<circle cx="99.00" cy="10.07" r="0.75" fill="#f4f4f4"/>
<circle cx="105.60" cy="9.30" r="0.4" fill="#f4f4f4"/>
<circle cx="112.20" cy="10.07" r="0.75" fill="#f4f4f4"/>
<circle cx="118.45" cy="12.34" r="0.4" fill="#f4f4f4"/>
<circle cx="124.01" cy="15.98" r="0.75" fill="#f4f4f4"/>
<circle cx="128.58" cy="20.81" r="0.4" fill="#f4f4f4"/>
<circle cx="131.92" cy="26.56" r="0.75" fill="#f4f4f4"/>
<circle cx="133.85" cy="32.92" r="0.4" fill="#f4f4f4"/>
<circle cx="134.26" cy="39.55" r="0.75" fill="#f4f4f4"/>
<circle cx="133.13" cy="46.10" r="0.4" fill="#f4f4f4"/>
<circle cx="130.53" cy="52.22" r="0.75" fill="#f4f4f4"/>
<text x="81.83" y="41.09" font-size="5" font-weight="700" font-style="italic" text-anchor="middle" fill="#fafafa" stroke="#fafafa" stroke-width="0.25">1</text>
<text x="83.77" y="30.31" font-size="5" font-weight="700" font-style="italic" text-anchor="middle" fill="#fafafa" stroke="#fafafa" stroke-width="0.25">2</text>
<text x="90.33" y="21.54" font-size="5" font-weight="700" font-style="italic" text-anchor="middle" fill="#fafafa" stroke="#fafafa" stroke-width="0.25">3</text>
<text x="100.12" y="16.64" font-size="5" font-weight="700" font-style="italic" text-anchor="middle" fill="#fafafa" stroke="#fafafa" stroke-width="0.25">4</text>
<text x="111.08" y="16.64" font-size="5" font-weight="700" font-style="italic" text-anchor="middle" fill="#fafafa" stroke="#fafafa" stroke-width="0.25">5</text>
<text x="120.87" y="21.54" font-size="5" font-weight="700" font-style="italic" text-anchor="middle" fill="#fafafa" stroke="#fafafa" stroke-width="0.25">6</text>
<text x="127.43" y="30.31" font-size="5" font-weight="700" font-style="italic" text-anchor="middle" fill="#fafafa" stroke="#fafafa" stroke-width="0.25">7</text>
<text x="129.37" y="41.09" font-size="5" font-weight="700" font-style="italic" text-anchor="middle" fill="#fafafa" stroke="#fafafa" stroke-width="0.25">8</text>
<text x="126.27" y="51.59" font-size="5" font-weight="700" font-style="italic" text-anchor="middle" fill="#fafafa" stroke="#fafafa" stroke-width="0.25">9</text>
<circle cx="13.53" cy="61.02" r="0.5" fill="#f4f4f4"/>
<circle cx="17.37" cy="63.55" r="0.5" fill="#f4f4f4"/>
<circle cx="21.57" cy="65.44" r="0.5" fill="#f4f4f4"/>
<circle cx="26.02" cy="66.63" r="0.5" fill="#f4f4f4"/>
<circle cx="30.60" cy="67.09" r="0.5" fill="#f4f4f4"/>
<circle cx="35.19" cy="66.82" r="0.5" fill="#f4f4f4"/>
<circle cx="39.69" cy="65.82" r="0.5" fill="#f4f4f4"/>
<circle cx="43.96" cy="64.11" r="0.5" fill="#f4f4f4"/>
<circle cx="47.91" cy="61.74" r="0.5" fill="#f4f4f4"/>
<circle cx="51.42" cy="58.76" r="0.5" fill="#f4f4f4"/>
<path d="M15.09,60.57 A27.4,27.4 0 0 1 9.61,55.27" fill="none" stroke="#8a1f1a" stroke-width="0.9"/>
<text x="17" y="58.6" font-size="3.4" font-weight="700" font-style="italic" fill="#fafafa">E</text>
<rect x="30.6" y="60.2" width="2.6" height="3" rx="0.4" fill="#fafafa"/><path d="M29.4,61.4 H30.6" stroke="#fafafa" stroke-width="0.5"/>
<path d="M40.8,50.4 L49.8,61.8" stroke="#f0674a" stroke-width="0.8"/><path d="M46.2,59.4 L48.6,57.4" stroke="#f0f0f0" stroke-width="0.6"/>
<path d="M7.8,52.8 L39.6,34" stroke="#f0674a" stroke-width="1.05" stroke-linecap="round"/>
<circle cx="12.8" cy="49.8" r="0.9" fill="#f4f4f4"/>
<path d="M81.6,52.2 L112.8,33.6" stroke="#f0674a" stroke-width="1.05" stroke-linecap="round"/>
<circle cx="85.4" cy="49.9" r="0.9" fill="#f4f4f4"/>
<text transform="translate(27.6,46.2) scale(1.3,1)" font-size="4" font-weight="700" font-style="italic" fill="#fafafa">mph</text>
<text x="97.6" y="45.8" font-size="2.9" font-weight="700" font-style="italic" fill="#fafafa">x1000 rpm</text>
<use href="#compass" transform="translate(68.4,11.2) scale(1.15)" stroke="#bdbdbd"/>
<path d="M59.4,21.6 H77.4 M61.8,36.6 H75.2 M61.8,45 H75.2 M61.6,53.6 H75.4" stroke="#5a5a5a" stroke-width="0.5"/>
<g fill="#b8b8b8" stroke="#b8b8b8" stroke-width="0.16" font-size="2.4" font-weight="700" text-anchor="middle"><text x="68.4" y="25.2">POWER</text><text x="68.4" y="27.8">MODE</text></g>
<text x="63.6" y="33.8" font-size="6" font-weight="700" font-style="italic" fill="#fafafa">F<tspan font-size="3.6" dx="-0.2">PO</tspan></text>
<rect x="63.6" y="38.4" width="10" height="4.8" rx="0.8" fill="#2a2a2a" stroke="#5a5a5a" stroke-width="0.3"/>
<text x="68.6" y="41.7" font-size="2.4" font-weight="700" text-anchor="middle" fill="#b8b8b8">SET UP</text>
<text x="68.6" y="51.6" font-size="3.8" font-weight="700" font-style="italic" fill="#fafafa" text-anchor="middle" letter-spacing="-0.3">NORMAL</text>
<path d="M60,75 V56 Q60,54.6 61.4,54.6 H80" fill="none" stroke="#5a5a5a" stroke-width="0.5"/>
<path d="M59.6,56 Q58.2,65 60.2,74" fill="none" stroke="#8d8d8d" stroke-width="0.45" stroke-dasharray="0.8 0.9"/>
<g fill="#b8b8b8" stroke="#b8b8b8" stroke-width="0.16" font-size="2.4" font-weight="700"><text x="64.2" y="58.4">UP</text><text x="72.4" y="58.4">TRIM</text><text x="64.2" y="73">DOWN</text></g>
<rect x="59.8" y="63.9" width="2.8" height="1.5" fill="#49c04f"/>
<path d="M65.6,65.8 H82.4 L81,69.4 Q74,70.6 67,69.4 Z" fill="#2b5fb4"/>
<use href="#ski" transform="translate(64.6,64.4) scale(2.3)" fill="#f4f4f4"/>
<path d="M66.6,65.9 H81.6" stroke="#123" stroke-width="0.5"/>
<g fill="#b8b8b8" stroke="#b8b8b8" stroke-width="0.16" font-size="2.2" font-weight="700" text-anchor="end"><text x="136.4" y="62">OUTSIDE</text><text x="136.4" y="64.6">WATER</text><text x="136.4" y="67.2">TEMP</text></g>
<text x="136.6" y="72.8" font-size="3.7" fill="#e6e6e6" text-anchor="end">63.5<tspan font-size="2.3" dy="-0.8">°F</tspan></text>
<text x="1.8" y="4.2" font-size="2.5" font-weight="700" fill="#b8b8b8">MODE</text><path d="M2.2,5.2 L4.4,7.2 L6.6,5.2 Z" fill="#e6e6e6"/>
<text x="1.8" y="66.8" font-size="2.3" font-weight="700" fill="#b8b8b8">SHIFT</text>
<text x="1.2" y="74.6" font-size="9.4" font-weight="700" font-style="italic" fill="#43bf4c" stroke="#43bf4c" stroke-width="0.45">N</text>
<rect x="0" y="74.5" width="137.8" height="1.2" fill="#1f5a24"/><rect x="0" y="74.8" width="137.8" height="0.55" fill="#369a3d"/>
<g font-size="6.3" fill="#fafafa" stroke="#fafafa" stroke-width="0.12"><text x="9.4" y="80.8" stroke="none" font-size="2.5" font-weight="700" fill="#c4c4c4">TRIP</text><text x="30.2" y="81.8">0.0</text><text x="42.4" y="81.2" font-size="2.8" font-weight="700" fill="#c4c4c4">mile</text><text x="62" y="80.8" font-size="2.5" font-weight="700" fill="#c4c4c4">OIL TEMP</text><text x="82.2" y="81.8">240</text><text x="94.4" y="80.6" font-size="3" font-weight="700" fill="#c4c4c4">°F</text><text x="117.8" y="81.8">1:00</text></g>
<path d="M53.4,77.2 V82 M106.2,77.2 V82" stroke="#9a9a9a" stroke-width="0.5"/>
</g>
</g></g>
<g transform="translate(869.8,584.4)"><use href="#shell"/><g transform="translate(28.6,26.9)">
<rect x="0" y="0" width="137.8" height="83.2" fill="#f1f1f1"/>
<g font-family="Liberation Sans, sans-serif">
<defs><linearGradient id="jsl" x1="0" y1="0" x2="0.9" y2="1"><stop offset="0" stop-color="#7f918e"/><stop offset="0.5" stop-color="#4a5f60"/><stop offset="1" stop-color="#243231"/></linearGradient></defs>
<path d="M24,73.4 L31.2,65.4 Q35,66.5 33,69.5 Q29,73 24,73.4Z" fill="#777" opacity="0.45"/>
<path d="M0,55 L29.3,63.6 L31,65.6 Q28,70.6 23.6,73.6 Q12,77.4 0,78.6 Z" fill="#182221"/>
<path d="M0,24.6 Q4.5,23 9,23.4 Q14,23.6 16.4,25.2 Q18.4,30 18.7,34.7 Q19,39.4 20.4,42.8 Q22.6,45.6 26.1,47.7 Q29.8,50.6 31.8,54.2 Q33.6,56.8 32.6,59.4 Q31.6,62.4 29.3,63.9 Q22,66.4 14,66.6 L0,67 Z" fill="url(#jsl)"/>
<path d="M9.6,23.9 L19.8,24.9" stroke="#10171a" stroke-width="1.1" stroke-linecap="round"/>
<path d="M14.6,30.4 Q18,27.6 22.6,28.6 Q23.4,29.8 22.2,30.6 Q18.4,30.2 15.4,32 Z" fill="#10171a"/>
<path d="M1.4,27.4 Q3.6,25 6.8,25.8 Q5.8,29.6 6.6,33.6 Q3.2,31.6 1.4,27.4Z" fill="#10171a" opacity="0.8"/>
<path d="M8.6,25.6 Q11.4,25.4 12.6,27.4 Q11.4,31 9.2,33 Q8,29.6 8.6,25.6Z" fill="#10171a" opacity="0.75"/>
<path d="M2.4,33.6 Q6.6,37.6 11,33.6 Q10.6,36.6 8.4,39 Q5,38.6 2.4,33.6Z" fill="#bccac8" opacity="0.85"/>
<path d="M6.2,27 Q7.4,30 7.2,33 L8.4,32.6 Q8.6,29.6 7.6,26.6Z" fill="#bccac8" opacity="0.9"/>
<path d="M13.4,33.4 Q12.4,41 15.4,47.6 L17.8,46 Q16,40 17.2,33.6Z" fill="#bccac8" opacity="0.55"/>
<path d="M18.2,36 Q17.6,41.4 19.8,45.4 L20.8,44.4 Q19.4,41 19.4,36.4Z" fill="#10171a" opacity="0.65"/>
<path d="M5,57 L24.6,52.4 M8.6,60.2 L24,56.4" fill="none" stroke="#bccac8" stroke-width="1" stroke-linecap="butt" opacity="0.85"/>
<path d="M24.6,52 L28.6,56.4 M25.6,51.4 L29.6,55.6" fill="none" stroke="#bccac8" stroke-width="0.5" opacity="0.6"/>
<path d="M0,62.6 Q15,64.6 30.6,59.8 L32.4,60.2 Q31.4,62.6 29.3,63.9 Q22,66.4 14,66.6 L0,67Z" fill="#10171a" opacity="0.75"/>
<rect x="0" y="0" width="137.8" height="9.7" fill="#363636"/>
<path d="M30.8,0.8 V9 M69.8,0.8 V9 M96.8,0.8 V9" stroke="#8a8a8a" stroke-width="0.5"/>
<g fill="#c8c8c8" stroke="#c8c8c8" stroke-width="0.16" font-size="2.5" font-weight="700"><text x="4.8" y="6.8">SHIFT</text><text x="34.6" y="6.8">DRIVE</text><text x="101.4" y="5">POWER</text><text x="102" y="7.8">MODE</text></g>
<text x="15.2" y="9" font-size="9.6" font-weight="700" font-style="italic" fill="#43c04c" stroke="#43c04c" stroke-width="0.45">N</text>
<text x="48.6" y="7.3" font-size="4.3" font-weight="700" font-style="italic" fill="#fafafa" letter-spacing="-0.35">NORMAL</text>
<g stroke="#dcdcdc" stroke-width="0.5" fill="none"><path d="M72,2.8 H78 M73,4.4 H77 M72.6,6 Q75,7.4 77.4,6 M73.4,7.8 H76.6"/></g>
<text x="83" y="7.4" font-size="4.2" fill="#f0f0f0">63.5<tspan font-size="2.4" dy="-0.9">°F</tspan></text>
<text x="117.4" y="7.6" font-size="5.6" font-weight="700" font-style="italic" fill="#fafafa">F<tspan font-size="3.4" dx="-0.2">PO</tspan></text>
<g fill="none" stroke="#79c36f" stroke-width="0.8" stroke-linejoin="round"><path d="M0,10.1 H121.4 V67.8 L129.6,75.6 H137.8"/><path d="M121.4,22.8 H137.8"/></g>
<g fill="#555" stroke="#555" stroke-width="0.16" font-size="2.4" font-weight="700"><text x="48.4" y="14.4">TRIM</text><text x="61.4" y="14.4">UP</text><text x="60.6" y="27.8">DOWN</text></g>
<path d="M57.2,11.4 Q55,20 57.2,28.8" fill="none" stroke="#6a8a5a" stroke-width="0.55" stroke-dasharray="0.8 0.8"/>
<rect x="55.6" y="18.6" width="3" height="1.4" fill="#49c04f"/>
<path d="M62.6,20.8 H79.8 L78.4,23.6 Q71,24.8 64,23.6 Z" fill="#3a6cc0"/>
<use href="#ski" transform="translate(61,19.8) scale(2.4,2.1)" fill="#151515"/>
<use href="#compass" transform="translate(88.4,19) scale(1.2)" stroke="#9a9a9a"/>
<use href="#big0" transform="translate(82.2,63.6) scale(1.17)" fill="#1b1b1b"/>
<text transform="translate(99.4,70.6) scale(1.3,1)" font-size="7.4" font-weight="700" font-style="italic" fill="#1a1a1a">mph</text>
<text x="123.4" y="13.4" font-size="2.4" font-weight="700" fill="#555">MODE</text><path d="M124.2,15 L126.4,17 L128.6,15 Z" fill="#2a2a2a"/>
<rect x="127.4" y="26" width="4" height="4.2" rx="0.5" fill="#1a1a1a"/><rect x="128.2" y="26.8" width="2.4" height="1.3" fill="#f1f1f1"/><path d="M125.4,27.8 H127.4" stroke="#1a1a1a" stroke-width="0.6"/>
<g fill="#1a1a1a"><path d="M123.4,32.2 H132 L130.8,34.2 L132,36.3 H123.4 Z"/><path d="M123.4,37.1 H132 L130.8,39.1 L132,41.2 H123.4 Z"/><path d="M123.4,42.0 H132 L130.8,44.0 L132,46.1 H123.4 Z"/><path d="M123.4,46.9 H132 L130.8,48.9 L132,51.0 H123.4 Z"/><path d="M123.4,51.8 H132 L130.8,53.8 L132,55.9 H123.4 Z"/><path d="M123.4,56.7 H132 L130.8,58.7 L132,60.8 H123.4 Z"/><path d="M123.4,61.6 H132 L130.8,63.6 L132,65.7 H123.4 Z"/><path d="M123.4,66.5 H132 L130.8,68.4 L132,70.4 H126.4 Z"/></g>
<g fill="#1a1a1a" font-size="3.8" font-weight="700" font-style="italic"><text x="133.4" y="37">F</text><text x="133.6" y="71.6">E</text></g>
<path d="M33.4,83.2 L41.4,75.6 H137.8 V83.2 Z" fill="#363636"/>
<path d="M33.2,83.2 L41.2,75.6 H129.6" fill="none" stroke="#79c36f" stroke-width="0.8"/>
<path d="M80.6,77 V82.4 M122,77 V82.4" stroke="#8a8a8a" stroke-width="0.5"/>
<g font-size="5.2" fill="#f4f4f4"><text x="45" y="81.2" font-size="2.5" font-weight="700" fill="#c4c4c4">TRIP</text><text x="64.6" y="81.9">0.0</text><text x="73.2" y="81.6" font-size="2.8" font-weight="700" fill="#d0d0d0">mile</text><text x="86.8" y="81.2" font-size="2.5" font-weight="700" fill="#c4c4c4">OIL TEMP</text><text x="103" y="81.9">240</text><text x="112.8" y="81" font-size="2.8" font-weight="700" fill="#d0d0d0">°F</text><text x="125.8" y="81.9">1:00</text></g>
</g>
</g></g>
<g transform="translate(713.0,482.7)" filter="url(#sh)"><use href="#shell"/><g transform="translate(28.6,26.9)">
<rect x="0" y="0" width="137.8" height="83.2" fill="#020202"/>
<g font-family="Liberation Sans, sans-serif">
<defs><linearGradient id="jsd" x1="0" y1="0" x2="0.9" y2="1"><stop offset="0" stop-color="#7d908d"/><stop offset="0.5" stop-color="#44575a"/><stop offset="1" stop-color="#172120"/></linearGradient></defs>
<path d="M0,55 L29.3,63.6 L31,65.6 Q28,70.6 23.6,73.6 Q12,77.4 0,78.6 Z" fill="#0a0f0e"/>
<path d="M0,24.6 Q4.5,23 9,23.4 Q14,23.6 16.4,25.2 Q18.4,30 18.7,34.7 Q19,39.4 20.4,42.8 Q22.6,45.6 26.1,47.7 Q29.8,50.6 31.8,54.2 Q33.6,56.8 32.6,59.4 Q31.6,62.4 29.3,63.9 Q22,66.4 14,66.6 L0,67 Z" fill="url(#jsd)"/>
<path d="M9.6,23.9 L19.8,24.9" stroke="#070b0a" stroke-width="1.1" stroke-linecap="round"/>
<path d="M14.6,30.4 Q18,27.6 22.6,28.6 Q23.4,29.8 22.2,30.6 Q18.4,30.2 15.4,32 Z" fill="#070b0a"/>
<circle cx="23.2" cy="29.2" r="0.7" fill="#c9d6d4"/><path d="M13,23.8 Q15.5,23.3 18,24.4" fill="none" stroke="#c9d6d4" stroke-width="0.7" stroke-linecap="round"/>
<path d="M1.4,27.4 Q3.6,25 6.8,25.8 Q5.8,29.6 6.6,33.6 Q3.2,31.6 1.4,27.4Z" fill="#070b0a" opacity="0.8"/>
<path d="M8.6,25.6 Q11.4,25.4 12.6,27.4 Q11.4,31 9.2,33 Q8,29.6 8.6,25.6Z" fill="#070b0a" opacity="0.75"/>
<path d="M2.4,33.6 Q6.6,37.6 11,33.6 Q10.6,36.6 8.4,39 Q5,38.6 2.4,33.6Z" fill="#c9d6d4" opacity="0.85"/>
<path d="M6.2,27 Q7.4,30 7.2,33 L8.4,32.6 Q8.6,29.6 7.6,26.6Z" fill="#c9d6d4" opacity="0.9"/>
<path d="M13.4,33.4 Q12.4,41 15.4,47.6 L17.8,46 Q16,40 17.2,33.6Z" fill="#c9d6d4" opacity="0.55"/>
<path d="M18.2,36 Q17.6,41.4 19.8,45.4 L20.8,44.4 Q19.4,41 19.4,36.4Z" fill="#070b0a" opacity="0.65"/>
<path d="M5,57 L24.6,52.4 M8.6,60.2 L24,56.4" fill="none" stroke="#c9d6d4" stroke-width="1" stroke-linecap="butt" opacity="0.85"/>
<path d="M24.6,52 L28.6,56.4 M25.6,51.4 L29.6,55.6" fill="none" stroke="#c9d6d4" stroke-width="0.5" opacity="0.6"/>
<path d="M0,62.6 Q15,64.6 30.6,59.8 L32.4,60.2 Q31.4,62.6 29.3,63.9 Q22,66.4 14,66.6 L0,67Z" fill="#070b0a" opacity="0.75"/>
<rect x="0" y="0" width="137.8" height="9.7" fill="#2b2b2b"/>
<path d="M30.8,0.8 V9 M69.8,0.8 V9 M96.8,0.8 V9" stroke="#3a3a3a" stroke-width="0.5"/>
<g fill="#c8c8c8" stroke="#c8c8c8" stroke-width="0.16" font-size="2.5" font-weight="700"><text x="4.8" y="6.8">SHIFT</text><text x="34.6" y="6.8">DRIVE</text><text x="101.4" y="5">POWER</text><text x="102" y="7.8">MODE</text></g>
<text x="15.2" y="9" font-size="9.6" font-weight="700" font-style="italic" fill="#43c04c" stroke="#43c04c" stroke-width="0.45">N</text>
<text x="48.6" y="7.3" font-size="4.3" font-weight="700" font-style="italic" fill="#fafafa" letter-spacing="-0.35">NORMAL</text>
<g stroke="#dcdcdc" stroke-width="0.5" fill="none"><path d="M72,2.8 H78 M73,4.4 H77 M72.6,6 Q75,7.4 77.4,6 M73.4,7.8 H76.6"/></g>
<text x="83" y="7.4" font-size="4.2" fill="#f0f0f0">63.5<tspan font-size="2.4" dy="-0.9">°F</tspan></text>
<text x="117.4" y="7.6" font-size="5.6" font-weight="700" font-style="italic" fill="#fafafa">F<tspan font-size="3.4" dx="-0.2">PO</tspan></text>
<g fill="none" stroke="#348c39" stroke-width="0.8" stroke-linejoin="round"><path d="M0,10.1 H121.4 V67.8 L129.6,75.6 H137.8"/><path d="M121.4,22.8 H137.8"/></g>
<g fill="#b8b8b8" stroke="#b8b8b8" stroke-width="0.16" font-size="2.4" font-weight="700"><text x="48.4" y="14.4">TRIM</text><text x="61.4" y="14.4">UP</text><text x="60.6" y="27.8">DOWN</text></g>
<path d="M57.2,11.4 Q55,20 57.2,28.8" fill="none" stroke="#8d8d8d" stroke-width="0.55" stroke-dasharray="0.8 0.8"/>
<rect x="55.6" y="18.6" width="3" height="1.4" fill="#49c04f"/>
<path d="M62.6,20.8 H79.8 L78.4,23.6 Q71,24.8 64,23.6 Z" fill="#2b5fb4"/>
<use href="#ski" transform="translate(61,19.8) scale(2.4,2.1)" fill="#f4f4f4"/>
<use href="#compass" transform="translate(88.4,19) scale(1.2)" stroke="#bdbdbd"/>
<use href="#big0" transform="translate(82.2,63.6) scale(1.17)" fill="#fdfdfd"/>
<text transform="translate(99.4,70.6) scale(1.3,1)" font-size="7.4" font-weight="700" font-style="italic" fill="#fafafa">mph</text>
<text x="123.4" y="13.4" font-size="2.4" font-weight="700" fill="#b8b8b8">MODE</text><path d="M124.2,15 L126.4,17 L128.6,15 Z" fill="#e6e6e6"/>
<rect x="127.4" y="26" width="4" height="4.2" rx="0.5" fill="#fafafa"/><rect x="128.2" y="26.8" width="2.4" height="1.3" fill="#020202"/><path d="M125.4,27.8 H127.4" stroke="#fafafa" stroke-width="0.6"/>
<g fill="#fafafa"><path d="M123.4,32.2 H132 L130.8,34.2 L132,36.3 H123.4 Z"/><path d="M123.4,37.1 H132 L130.8,39.1 L132,41.2 H123.4 Z"/><path d="M123.4,42.0 H132 L130.8,44.0 L132,46.1 H123.4 Z"/><path d="M123.4,46.9 H132 L130.8,48.9 L132,51.0 H123.4 Z"/><path d="M123.4,51.8 H132 L130.8,53.8 L132,55.9 H123.4 Z"/><path d="M123.4,56.7 H132 L130.8,58.7 L132,60.8 H123.4 Z"/><path d="M123.4,61.6 H132 L130.8,63.6 L132,65.7 H123.4 Z"/><path d="M123.4,66.5 H132 L130.8,68.4 L132,70.4 H126.4 Z"/></g>
<g fill="#fafafa" font-size="3.8" font-weight="700" font-style="italic"><text x="133.4" y="37">F</text><text x="133.6" y="71.6">E</text></g>
<path d="M33.4,83.2 L41.4,75.6 H137.8 V83.2 Z" fill="#2b2b2b"/>
<path d="M33.2,83.2 L41.2,75.6 H129.6" fill="none" stroke="#348c39" stroke-width="0.8"/>
<path d="M80.6,77 V82.4 M122,77 V82.4" stroke="#3a3a3a" stroke-width="0.5"/>
<g font-size="5.2" fill="#f4f4f4"><text x="45" y="81.2" font-size="2.5" font-weight="700" fill="#c4c4c4">TRIP</text><text x="64.6" y="81.9">0.0</text><text x="73.2" y="81.6" font-size="2.8" font-weight="700" fill="#d0d0d0">mile</text><text x="86.8" y="81.2" font-size="2.5" font-weight="700" fill="#c4c4c4">OIL TEMP</text><text x="103" y="81.9">240</text><text x="112.8" y="81" font-size="2.8" font-weight="700" fill="#d0d0d0">°F</text><text x="125.8" y="81.9">1:00</text></g>
</g>
</g></g>
<!-- white arrows -->
<use href="#warrow" transform="translate(635.8,271.6)"/>
<use href="#warrow" transform="translate(543.05,311.4) rotate(180)"/>
<use href="#warrow" transform="translate(361.9,577.8)"/>
<use href="#warrow" transform="translate(269.1,618) rotate(180)"/>
<use href="#warrow" transform="translate(934.5,577.9)"/>
<use href="#warrow" transform="translate(841.6,618) rotate(180)"/>

</svg>
</body></html>
